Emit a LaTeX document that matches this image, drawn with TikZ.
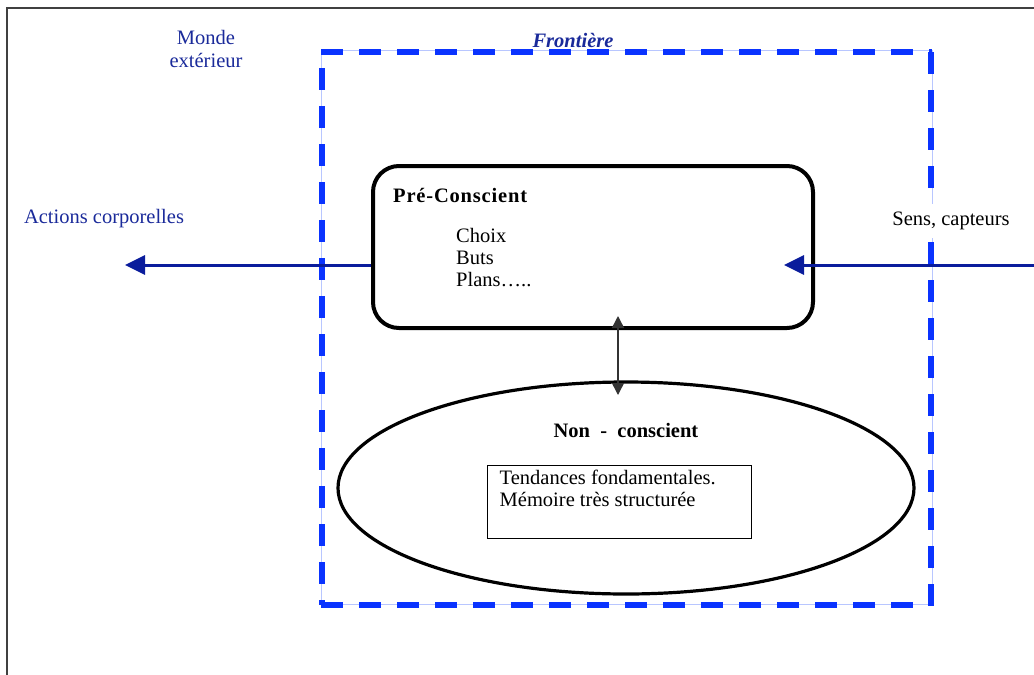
\documentclass[tikz,border=0pt]{standalone}
\usepackage{fontspec}
\setmainfont{Liberation Serif}
\usetikzlibrary{arrows.meta,shapes.geometric}
\definecolor{navy}{HTML}{1A2A9A}
\definecolor{arrowblue}{HTML}{0A1C9C}
\definecolor{borderblue}{HTML}{0A33FF}
\definecolor{paleblue}{HTML}{B8C6FF}
\tikzset{
  lbl/.style={font=\fontsize{20.5}{23}\selectfont, inner sep=0pt},
  flow/.style={draw=arrowblue, line width=3pt, -{Triangle[length=20pt,width=19pt]}},
  link/.style={draw=black!80, line width=1.5pt, {Triangle[length=12pt,width=12pt]}-{Triangle[length=12pt,width=12pt]}},
  border/.style={draw=borderblue, line width=5.5pt, dash pattern=on 22pt off 16pt},
  guide/.style={draw=paleblue, line width=1pt},
}
\begin{document}
\begin{tikzpicture}[x=1pt,y=-1pt]
\useasboundingbox (0,0) rectangle (1034,675);
% outer frame
\draw[black!75, line width=1.5pt] (7,675) -- (7,8) -- (1034,8);

% frontier
\draw[guide] (321,50) rectangle (932,604);
\draw[border] (321,52) -- (932,52);
\draw[border] (322,68) -- (322,605);
\draw[border] (321,605) -- (915,605);
\draw[border] (931,52) -- (931,609);
\node[lbl, text=navy, font=\fontsize{20.5}{23}\selectfont\bfseries\itshape] (front) at (573,40) {Frontière};

\node[lbl, text=navy, align=center] (monde) at (206,49) {Monde\\extérieur};

% pre-conscious box
\node[draw, line width=4pt, rounded corners=26pt, minimum width=440pt, minimum height=162pt] (pre) at (593,247) {};
\node[lbl, anchor=west, font=\fontsize{20.5}{23}\selectfont\bfseries\addfontfeature{LetterSpace=4}] (pretitle) at (393,195) {Pré-Conscient};
\node[lbl, anchor=north west, align=left, font=\fontsize{20.5}{22}\selectfont] (prelist) at (456,228) {Choix\\Buts\\Plans…..};

% non-conscious ellipse
\node[draw, ellipse, line width=3.2pt, minimum width=576pt, minimum height=212pt] (non) at (626,488) {};
\node[lbl, font=\fontsize{20.5}{23}\selectfont\bfseries] (nontitle) at (626,430) {Non \ - \ conscient};
\node[draw, line width=1pt, minimum width=264pt, minimum height=73pt] (mem) at (619,502) {};
\node[lbl, anchor=north west, align=left, font=\fontsize{20.5}{22}\selectfont] (memtext) at ([xshift=13pt,yshift=-5pt]mem.north west) {Tendances fondamentales.\\Mémoire très structurée};

% external labels
\node[lbl, text=navy] (actions) at (104,219) {Actions corporelles};
\node[lbl, fill=white, inner ysep=8pt, inner xsep=2pt] (sens) at (951,221) {Sens, capteurs};

% flows
\coordinate (actEnd) at (125,265);
\coordinate (sensStart) at (1034,265);
\coordinate (sensEnd) at (784,265);
\draw[flow] (pre.west |- actEnd) -- (actEnd);
\draw[flow] (sensStart) -- (sensEnd);

\coordinate (linkTop) at (618,316);
\coordinate (linkBot) at (618,395);
\draw[link] (linkTop) -- (linkBot);
\end{tikzpicture}
\end{document}
